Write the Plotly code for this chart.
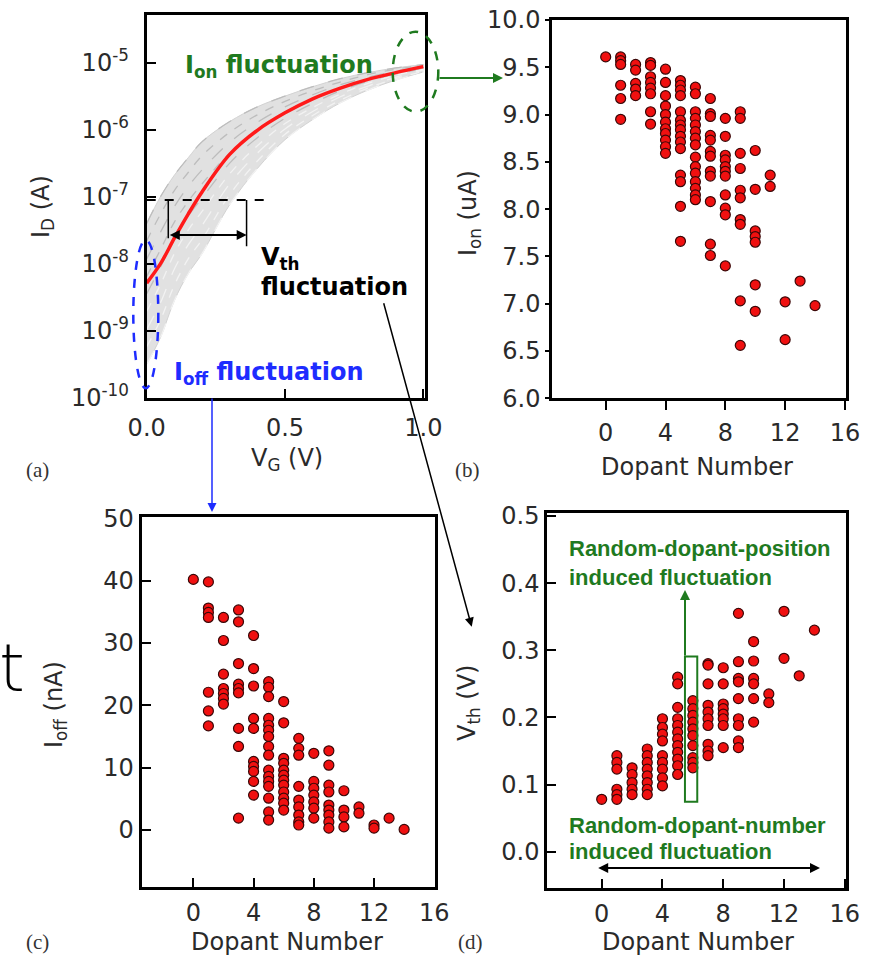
import plotly.graph_objects as go

W, H = 875, 956

# ---------------- data ----------------
vg = [0.0, 0.05, 0.1, 0.15, 0.2, 0.3, 0.4, 0.5, 0.6, 0.7, 0.8, 0.9, 1.0]
log_id_nominal = [-8.29, -8.00, -7.62, -7.26, -6.93, -6.37, -6.01, -5.75, -5.54, -5.38, -5.25, -5.15, -5.06]
log_id_gray = [
    [-7.40, -7.00, -6.68, -6.42, -6.18, -5.88, -5.66, -5.50, -5.36, -5.24, -5.15, -5.08, -5.03],
    [-7.66, -7.26, -6.91, -6.64, -6.39, -6.04, -5.78, -5.58, -5.42, -5.29, -5.18, -5.10, -5.04],
    [-7.93, -7.53, -7.15, -6.85, -6.60, -6.19, -5.89, -5.66, -5.48, -5.33, -5.22, -5.13, -5.06],
    [-8.19, -7.79, -7.38, -7.07, -6.81, -6.35, -6.01, -5.74, -5.54, -5.38, -5.25, -5.15, -5.07],
    [-8.45, -8.05, -7.62, -7.29, -7.02, -6.50, -6.12, -5.83, -5.61, -5.42, -5.28, -5.17, -5.09],
    [-8.71, -8.31, -7.85, -7.50, -7.22, -6.66, -6.24, -5.91, -5.67, -5.47, -5.31, -5.19, -5.10],
    [-8.98, -8.58, -8.08, -7.72, -7.43, -6.81, -6.35, -5.99, -5.73, -5.51, -5.35, -5.22, -5.11],
    [-9.24, -8.84, -8.32, -7.93, -7.64, -6.97, -6.47, -6.07, -5.79, -5.56, -5.38, -5.24, -5.13],
    [-9.50, -9.10, -8.55, -8.15, -7.85, -7.12, -6.58, -6.15, -5.85, -5.60, -5.41, -5.26, -5.14],
]
log_vth_level = -7.05

dopant_numbers = [0, 1, 2, 3, 4, 5, 6, 7, 8, 9, 10, 11, 12, 13, 14]

ion_uA = [
    [9.61],
    [9.61, 9.57, 9.53, 9.31, 9.17, 8.95],
    [9.53, 9.47, 9.33, 9.27, 9.20],
    [9.55, 9.52, 9.40, 9.34, 9.28, 9.22, 9.03, 8.90],
    [9.48, 9.34, 9.20, 9.09, 9.00, 8.92, 8.85, 8.80, 8.73, 8.66, 8.59],
    [9.36, 9.31, 9.26, 9.20, 9.03, 8.94, 8.89, 8.84, 8.77, 8.71, 8.64, 8.36, 8.29, 8.03, 7.66],
    [9.29, 9.22, 9.03, 8.96, 8.89, 8.82, 8.75, 8.68, 8.55, 8.45, 8.38, 8.29, 8.22, 8.15, 8.10],
    [9.17, 9.01, 8.98, 8.78, 8.73, 8.61, 8.56, 8.40, 8.35, 8.08, 7.63, 7.51],
    [8.96, 8.77, 8.57, 8.52, 8.45, 8.40, 8.35, 8.15, 8.01, 7.94, 7.40],
    [9.03, 8.96, 8.59, 8.43, 8.20, 8.12, 7.89, 7.84, 7.03, 6.56],
    [8.62, 8.21, 7.77, 7.71, 7.65, 7.20, 6.92],
    [8.36, 8.24],
    [7.02, 6.62],
    [7.24],
    [6.98],
]

ioff_nA = [
    [40.2],
    [39.8, 35.6, 34.9, 34.1, 22.1, 19.1, 16.7],
    [34.1, 30.4, 25.0, 22.7, 21.9, 21.1, 20.2],
    [35.3, 33.4, 26.7, 23.4, 22.7, 22.0, 16.3, 13.4, 1.9],
    [31.2, 25.9, 23.1, 17.9, 16.3, 11.0, 10.2, 9.4, 7.8, 5.6],
    [23.8, 22.9, 21.4, 17.9, 16.8, 16.0, 15.0, 13.4, 12.0, 9.6, 8.6, 7.8, 7.0, 5.1, 2.9, 1.6],
    [20.6, 17.2, 11.5, 10.7, 9.6, 8.8, 8.0, 7.2, 6.1, 5.1, 4.3, 3.2],
    [14.7, 13.1, 12.0, 7.0, 4.8, 3.7, 2.4, 1.3, 0.8],
    [12.3, 7.8, 6.7, 5.6, 4.5, 3.5, 1.9],
    [12.7, 10.4, 7.2, 6.1, 4.0, 3.2, 2.4, 1.3, 0.3],
    [6.3, 3.2, 2.1, 0.5],
    [3.7, 2.7],
    [0.8, 0.3],
    [1.9],
    [0.1],
]

vth_V = [
    [0.078],
    [0.143, 0.133, 0.123, 0.093, 0.085, 0.078],
    [0.125, 0.115, 0.103, 0.093, 0.085],
    [0.153, 0.143, 0.133, 0.123, 0.113, 0.103, 0.093, 0.085],
    [0.198, 0.185, 0.175, 0.165, 0.143, 0.133, 0.123, 0.110, 0.098],
    [0.260, 0.250, 0.215, 0.198, 0.188, 0.178, 0.168, 0.158, 0.148, 0.138, 0.128, 0.115],
    [0.225, 0.213, 0.203, 0.193, 0.183, 0.173, 0.158, 0.140, 0.133, 0.125],
    [0.280, 0.278, 0.250, 0.218, 0.208, 0.198, 0.188, 0.160, 0.150, 0.143],
    [0.274, 0.250, 0.220, 0.213, 0.205, 0.198, 0.188, 0.155],
    [0.355, 0.283, 0.258, 0.253, 0.228, 0.198, 0.188, 0.165, 0.155],
    [0.313, 0.284, 0.258, 0.250, 0.228, 0.193],
    [0.235, 0.222],
    [0.358, 0.288],
    [0.262],
    [0.330],
]

id_tickvals_log = [-10, -9, -8, -7, -6, -5]
vg_ticks = [0.0, 0.5, 1.0]
dopant_ticks = [0, 4, 8, 12, 16]
ion_ticks = [6.0, 6.5, 7.0, 7.5, 8.0, 8.5, 9.0, 9.5, 10.0]
ioff_ticks = [0, 10, 20, 30, 40, 50]
vth_ticks = [0.0, 0.1, 0.2, 0.3, 0.4, 0.5]


def flatten(groups):
    xs, ys = [], []
    for n, vals in zip(dopant_numbers, groups):
        for v in vals:
            xs.append(n)
            ys.append(v)
    return xs, ys


def px(x):
    return x / W


def py(y):
    return 1 - y / H


TICK_FONT = dict(family="DejaVu Sans", size=24, color="#2a2a2a")
TITLE_FONT = dict(family="DejaVu Sans", size=24, color="#2a2a2a")
GREEN = "#1f7a1f"
BLUE = "#1e2cff"
MARKER = dict(size=10, color="#f01010", line=dict(color="#3a0808", width=1.2))

fig = go.Figure()

# ---- panel (a) ----
upper = [10 ** v for v in log_id_gray[0]]
lower = [10 ** v for v in log_id_gray[-1]]
fig.add_trace(go.Scatter(x=vg, y=upper, mode="lines", line=dict(color="#d2d2d2", width=1, shape="spline"),
                         xaxis="x", yaxis="y", showlegend=False, hoverinfo="skip"))
fig.add_trace(go.Scatter(x=vg, y=lower, mode="lines", line=dict(color="#d2d2d2", width=1, shape="spline"),
                         fill="tonexty", fillcolor="rgba(205,205,205,0.6)",
                         xaxis="x", yaxis="y", showlegend=False, hoverinfo="skip"))
for i, curve in enumerate(log_id_gray):
    fig.add_trace(go.Scatter(x=vg, y=[10 ** v for v in curve], mode="lines",
                             line=dict(color="#bdbdbd" if i < 5 else "#f2f2f2", width=1.3,
                                       dash="dash" if i % 2 else "longdash", shape="spline"),
                             xaxis="x", yaxis="y", showlegend=False, hoverinfo="skip"))
fig.add_trace(go.Scatter(x=vg, y=[10 ** v for v in log_id_nominal], mode="lines",
                         line=dict(color="#ff1a1a", width=3.5, shape="spline"),
                         xaxis="x", yaxis="y", showlegend=False, hoverinfo="skip"))
# Vth construction lines
fig.add_trace(go.Scatter(x=[0.0, 0.446], y=[10 ** log_vth_level] * 2, mode="lines",
                         line=dict(color="black", width=2, dash="dash"),
                         xaxis="x", yaxis="y", showlegend=False, hoverinfo="skip"))
fig.add_trace(go.Scatter(x=[0.078, 0.078], y=[10 ** log_vth_level, 10 ** -7.62], mode="lines",
                         line=dict(color="black", width=1.5),
                         xaxis="x", yaxis="y", showlegend=False, hoverinfo="skip"))
fig.add_trace(go.Scatter(x=[0.361, 0.361], y=[10 ** log_vth_level, 10 ** -7.74], mode="lines",
                         line=dict(color="black", width=1.5),
                         xaxis="x", yaxis="y", showlegend=False, hoverinfo="skip"))

# ---- panels (b), (c), (d) ----
xb, yb = flatten(ion_uA)
fig.add_trace(go.Scatter(x=xb, y=yb, mode="markers", marker=MARKER, xaxis="x2", yaxis="y2", showlegend=False))
xc, yc = flatten(ioff_nA)
fig.add_trace(go.Scatter(x=xc, y=yc, mode="markers", marker=MARKER, xaxis="x3", yaxis="y3", showlegend=False))
xd, yd = flatten(vth_V)
fig.add_trace(go.Scatter(x=xd, y=yd, mode="markers", marker=MARKER, xaxis="x4", yaxis="y4", showlegend=False))

axis_common = dict(showline=True, linecolor="black", linewidth=3, mirror=True, showgrid=False,
                   zeroline=False, ticks="inside", ticklen=9, tickwidth=2, tickcolor="black",
                   tickfont=TICK_FONT, automargin=False)

fig.update_layout(
    width=W, height=H, margin=dict(l=0, r=0, t=0, b=0, pad=0, autoexpand=False),
    paper_bgcolor="white", plot_bgcolor="white", showlegend=False,
    xaxis=dict(axis_common, domain=[px(146.7), px(425)], range=[0, 1.006], anchor="y",
               tickvals=vg_ticks, ticktext=["0.0", "0.5", "1.0"], ticklabelstandoff=6),
    yaxis=dict(axis_common, domain=[py(397.7), py(15)], type="log", range=[-10, -4.29], anchor="x",
               tickvals=[10 ** v for v in id_tickvals_log],
               ticktext=["10<sup>%d</sup>" % v for v in id_tickvals_log], ticklabelstandoff=10),
    xaxis2=dict(axis_common, domain=[px(552.3), px(846)], range=[-3.57, 16.07], anchor="y2",
                tickvals=dopant_ticks, ticks="outside", ticklabelstandoff=2),
    yaxis2=dict(axis_common, domain=[py(398.3), py(20)], range=[6.0, 10.0], anchor="x2",
                tickvals=ion_ticks, ticktext=["%.1f" % v for v in ion_ticks], ticks="outside", ticklen=4),
    xaxis3=dict(axis_common, domain=[px(141.7), px(435)], range=[-3.43, 16.05], anchor="y3",
                tickvals=dopant_ticks, ticklabelstandoff=2),
    yaxis3=dict(axis_common, domain=[py(887.3), py(517.3)], range=[-9.19, 50.16], anchor="x3",
                tickvals=ioff_ticks),
    xaxis4=dict(axis_common, domain=[px(547.3), px(846)], range=[-3.58, 16.08], anchor="y4",
                tickvals=dopant_ticks, ticklabelstandoff=2),
    yaxis4=dict(axis_common, domain=[py(888.3), py(513.3)], range=[-0.0545, 0.504], anchor="x4",
                tickvals=vth_ticks, ticktext=["%.1f" % v for v in vth_ticks]),
)

ann = []


def text(x, y, s, font, xanchor="center", yanchor="middle", angle=0):
    ann.append(dict(x=px(x), y=py(y), xref="paper", yref="paper", text=s, showarrow=False,
                    font=font, xanchor=xanchor, yanchor=yanchor, textangle=angle))


def arrow(hx, hy, tx, ty, color, width=2, side="end", size=1.0, head=2):
    ann.append(dict(x=px(hx), y=py(hy), xref="paper", yref="paper", ax=tx - hx, ay=ty - hy,
                    axref="pixel", ayref="pixel", text="", showarrow=True, arrowcolor=color,
                    arrowwidth=width, arrowhead=head, arrowsize=size, arrowside=side,
                    startarrowhead=head, startarrowsize=size, standoff=0, startstandoff=0))


# axis titles
text(42, 207, "I<sub>D</sub> (A)", TITLE_FONT, angle=-90)
text(287, 459, "V<sub>G</sub> (V)", TITLE_FONT)
text(469, 213, "I<sub>on</sub> (uA)", TITLE_FONT, angle=-90)
text(697, 467, "Dopant Number", TITLE_FONT)
text(55, 705, "I<sub>off</sub> (nA)", TITLE_FONT, angle=-90)
text(287, 942, "Dopant Number", TITLE_FONT)
text(468, 703, "V<sub>th</sub> (V)", TITLE_FONT, angle=-90)
text(698, 942, "Dopant Number", TITLE_FONT)

# panel labels
LAB = dict(family="Liberation Serif", size=21, color="#333333")
text(37, 470, "(a)", LAB)
text(467, 470, "(b)", LAB)
text(37, 942, "(c)", LAB)
text(470, 942, "(d)", LAB)

# stray glyph at the left edge
text(12, 668, "t", dict(family="DejaVu Sans", size=66, color="black", weight=200))

# panel (a) annotations
BOLD_A = dict(family="DejaVu Sans", size=24, color=GREEN, weight="bold")
text(183, 66, "I<sub>on</sub> fluctuation", BOLD_A, xanchor="left")
text(172, 373, "I<sub>off</sub> fluctuation", dict(BOLD_A, color=BLUE), xanchor="left")
text(259, 258, "V<sub>th</sub>", dict(BOLD_A, color="black"), xanchor="left")
text(259, 287, "fluctuation", dict(BOLD_A, color="black"), xanchor="left")

# Vth double arrow
arrow(246.7, 235, 168.3, 235, "black", width=2, side="end+start", size=1.0)

# connecting arrows
arrow(503, 78, 438, 78, GREEN, width=2, size=1.0)
arrow(212, 512, 212, 397, BLUE, width=1.5, size=1.2)
arrow(471.7, 626.7, 383.3, 301.7, "black", width=1.5, size=1.2)

# panel (d) annotations
BOLD_D = dict(family="Liberation Sans", size=22, color=GREEN, weight="bold")
text(567, 548, "Random-dopant-position", BOLD_D, xanchor="left")
text(567, 577, "induced fluctuation", BOLD_D, xanchor="left")
text(567, 825, "Random-dopant-number", BOLD_D, xanchor="left")
text(567, 851, "induced fluctuation", BOLD_D, xanchor="left")
arrow(685, 590, 685, 657, GREEN, width=2, size=1.0)
arrow(820, 868, 596.7, 868, "black", width=2, side="end+start", size=1.0)

fig.update_layout(annotations=ann)

shapes = [
    dict(type="circle", xref="paper", yref="paper", x0=px(392.7), x1=px(438.3), y0=py(111.7), y1=py(31.7),
         line=dict(color=GREEN, width=2.5, dash="dash")),
    dict(type="circle", xref="paper", yref="paper", x0=px(133.3), x1=px(158.3), y0=py(388.3), y1=py(240),
         line=dict(color=BLUE, width=2.5, dash="dash")),
    dict(type="rect", xref="x4", yref="y4", x0=5.48, x1=6.29, y0=0.0745, y1=0.2906,
         line=dict(color=GREEN, width=2), layer="above"),
]
fig.update_layout(shapes=shapes)

fig.write_html("out.html", config={"displayModeBar": False},
               post_script="document.body.style.margin='0';document.body.style.overflow='hidden';")
